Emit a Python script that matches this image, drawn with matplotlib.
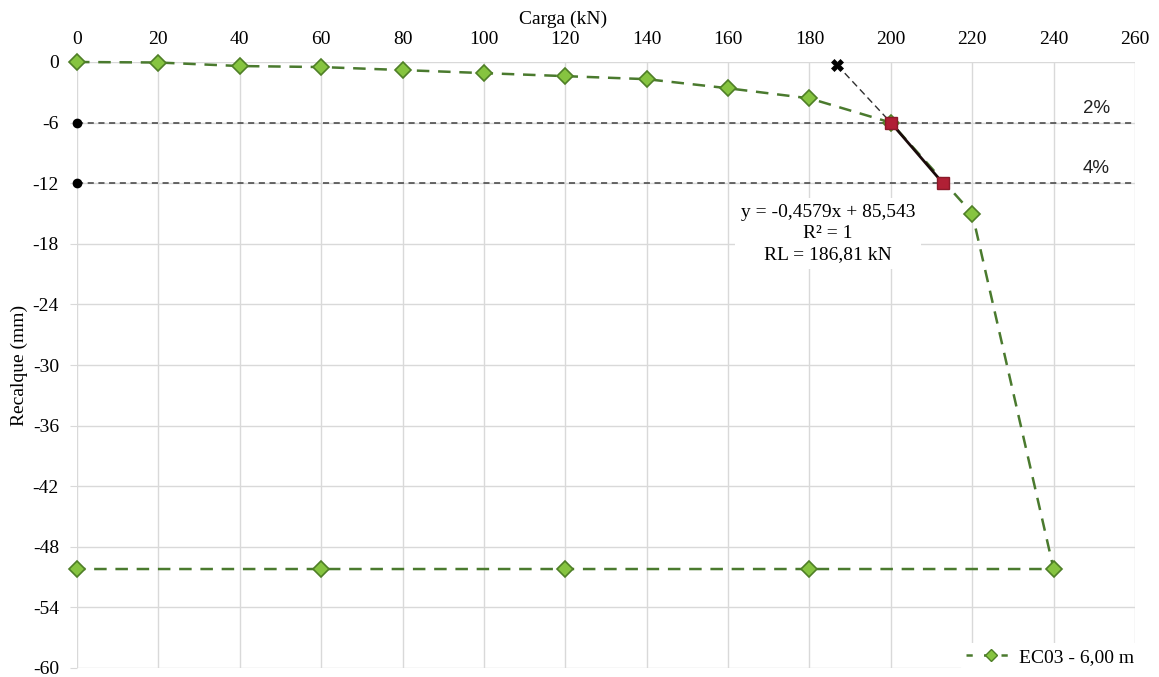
import matplotlib
matplotlib.use("Agg")
import matplotlib.pyplot as plt
from matplotlib.lines import Line2D

carga = [0, 20, 40, 60, 80, 100, 120, 140, 160, 180, 200, 220, 240, 180, 120, 60, 0]
recalque = [0, -0.05, -0.4, -0.5, -0.8, -1.1, -1.4, -1.7, -2.6, -3.6, -6.0, -15.0, -50.2, -50.2, -50.2, -50.2, -50.2]

fit_x = [200, 212.8]
fit_y = [-6.0, -12.0]
rl_x = [186.81, 200]
rl_y = [-0.3, -6.0]
limits_y = [-6, -12]
limits_lbl = ["2%", "4%"]
xticks = list(range(0, 261, 20))
yticks = list(range(0, -61, -6))

serif = ["Liberation Serif", "DejaVu Serif"]
plt.rcParams['font.family'] = serif
plt.rcParams['axes.unicode_minus'] = False

fig = plt.figure(figsize=(11.59, 6.77), dpi=100)
ax = fig.add_axes([77/1159, 1-668/677, (1135-77)/1159, (668-62)/677])

ax.set_xlim(0, 260)
ax.set_ylim(-60, 0)
ax.set_xticks(xticks)
ax.set_yticks(yticks)
ax.xaxis.tick_top()
ax.xaxis.set_label_position('top')
ax.grid(True, color='#d9d9d9', lw=1)
for s in ax.spines.values():
    s.set_visible(False)
ax.tick_params(axis='x', length=0, labelsize=14, pad=10)
ax.tick_params(axis='y', length=5, color='#d9d9d9', labelsize=14, pad=8)
ax.set_xlabel("Carga (kN)", fontsize=14)
ax.xaxis.set_label_coords((563-77)/1058, 1 + (62-24)/606)
ax.set_ylabel("Recalque (mm)", fontsize=14)
ax.yaxis.set_label_coords(-(77-28)/1058, (668-365)/606)

# limit lines
for yv, lbl in zip(limits_y, limits_lbl):
    ax.plot([0, 260], [yv, yv], ls=(0, (4, 3)), color='#404040', lw=1.1, clip_on=False, zorder=3)
    ax.plot([0], [yv], 'o', color='black', ms=6, clip_on=False, zorder=4)
    ax.text(250.5, yv + 0.6, lbl, family=["Liberation Sans", "DejaVu Sans"], fontsize=13.5,
            ha='center', va='bottom', color='#222222')

# main curve
ax.plot(carga, recalque, ls=(0, (5, 3.5)), color='#4a7a2e', lw=1.8,
        marker='D', ms=8, mfc='#86c440', mec='#4f7f27', mew=1.2, clip_on=False, zorder=5)

# tangent dashed to RL
ax.plot(rl_x, rl_y, ls=(0, (5, 3)), color='#303030', lw=1.0, zorder=6)
ax.plot([rl_x[0]], [rl_y[0]], marker='X', color='black', ms=8, mew=0.5, zorder=7, clip_on=False)

# fit line
ax.plot(fit_x, fit_y, color='#1a0a0a', lw=2.0, marker='s', ms=8, mfc='#b02035', mec='#8a1a2a', zorder=8)

ax.text(184.5, -17.0, "y = -0,4579x + 85,543\nR² = 1\nRL = 186,81 kN",
        ha='center', va='center', fontsize=14, linespacing=1.3,
        bbox=dict(boxstyle='square,pad=0.3', fc='white', ec='none'), zorder=9)

handle = Line2D([], [], ls=(0, (2.5, 4.5)), color='#4a7a2e', lw=1.8, marker='D', ms=6,
                mfc='#86c440', mec='#4f7f27')
leg = fig.legend([handle], ["EC03 - 6,00 m"], loc='center', bbox_to_anchor=(1050/1159, 1-657/677),
                 frameon=True, fontsize=14, handlelength=2.6, handletextpad=0.1, borderpad=0.25)
leg.get_frame().set_edgecolor('none')
leg.get_frame().set_facecolor('white')
leg.get_frame().set_alpha(1)

fig.savefig("out.png", dpi=100)
